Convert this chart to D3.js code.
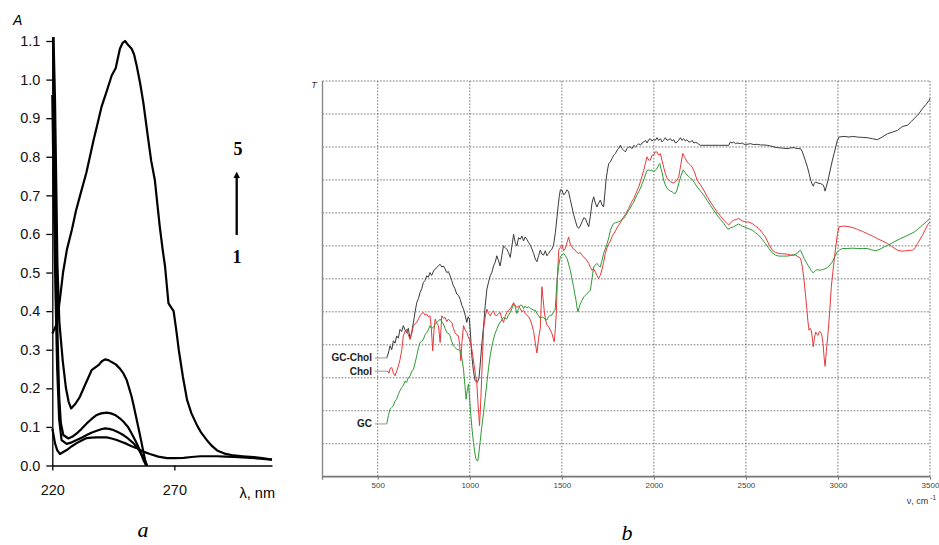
<!DOCTYPE html>
<html lang="en">
<head>
<meta charset="utf-8">
<title>UV and IR spectra</title>
<script src="https://cdn.jsdelivr.net/npm/d3@7"></script>
<style>
  body { margin: 0; background: #fff; }
  .tickA text { font-family: "Liberation Sans", Arial, sans-serif; font-size: 14.5px; fill: #111; }
  .tickA path, .tickA line { stroke: #000; stroke-width: 1.3; }
  .tickB text { font-family: "Liberation Sans", Arial, sans-serif; font-size: 8px; fill: #444; }
  .tickB line { stroke: #777; }
  .tickB path { stroke: none; }
  .grid line { stroke: #666; stroke-width: 0.9; stroke-dasharray: 1.6,1.6; }
</style>
</head>
<body>
<div id="chart"></div>
<script>
// ---------- panel a : UV spectra, curves 1..5 ----------
var aTicksY = [0, 0.1, 0.2, 0.3, 0.4, 0.5, 0.6, 0.7, 0.8, 0.9, 1.0, 1.1];
var aTicksX = [220, 270];

var uv1 = [[220,0.096],[221.1,0.058],[222,0.04],[223.1,0.03],[224.5,0.035],[225.9,0.04],[228,0.05],[230,0.058],[232,0.065],[234.1,0.071],[236,0.072],[238.2,0.073],[240,0.073],[242.3,0.073],[244.3,0.07],[246.4,0.066],[248.5,0.061],[250.5,0.056],[252.5,0.05],[254.6,0.045],[257.3,0.036],[260,0.03],[263.4,0.023],[267,0.019],[270,0.019],[273.8,0.02],[277,0.022],[280.7,0.024],[284,0.024],[287.5,0.024],[291,0.023],[294.4,0.022],[298,0.021],[301.2,0.02],[305,0.018],[310,0.015]];
var uv2 = [[220,0.96],[220.6,0.7],[221.3,0.45],[222,0.25],[222.8,0.12],[223.8,0.066],[225.9,0.056],[228,0.06],[230,0.066],[232,0.072],[234.1,0.079],[236,0.085],[238.2,0.09],[240,0.094],[241.6,0.096],[243.3,0.095],[245,0.092],[247,0.086],[249.1,0.079],[251,0.07],[253.2,0.058],[254.6,0.048],[255.9,0.036],[257,0.022],[258,0.01],[258.9,0]];
var uv3 = [[220.3,1.11],[220.8,0.85],[221.4,0.6],[222.1,0.35],[222.8,0.18],[223.5,0.11],[224.5,0.079],[226.6,0.07],[228.3,0.075],[230,0.083],[232,0.095],[234.1,0.109],[236,0.12],[238.2,0.131],[240,0.135],[242.3,0.137],[244,0.135],[245.7,0.131],[247.5,0.123],[249.1,0.114],[251,0.1],[252.5,0.083],[254,0.065],[255.2,0.049],[256.3,0.032],[257.3,0.015],[258.4,0]];
var uv4 = [[220.5,1.11],[221.1,0.95],[221.5,0.78],[222.1,0.52],[222.9,0.37],[224.3,0.27],[225.6,0.2],[226.7,0.165],[227.7,0.148],[229.5,0.16],[231.3,0.178],[233.5,0.21],[236.1,0.247],[238.9,0.26],[240.3,0.27],[241.6,0.275],[243,0.273],[244.3,0.268],[246,0.262],[247.7,0.251],[249.2,0.238],[250.5,0.221],[251.5,0.2],[252.5,0.178],[253.5,0.15],[254.6,0.118],[255.6,0.088],[256.6,0.058],[257.3,0.035],[258,0.015],[258.7,0]];
var uv5 = [[220,0.342],[221,0.355],[221.8,0.367],[223.1,0.43],[224.4,0.5],[226,0.56],[228,0.61],[229.7,0.66],[231.4,0.7],[234,0.76],[236.8,0.84],[238.5,0.885],[240.2,0.93],[242.3,0.97],[244.3,1.01],[246,1.03],[247,1.06],[247.7,1.08],[248.8,1.095],[249.8,1.1],[251,1.09],[252.5,1.08],[253.5,1.065],[254.6,1.035],[256,0.99],[257.3,0.94],[259.3,0.845],[260.5,0.79],[262,0.74],[263,0.68],[264,0.62],[265.2,0.56],[266.2,0.515],[267.6,0.42],[269.7,0.4],[270.8,0.35],[271.8,0.3],[273.5,0.23],[275.2,0.17],[277,0.135],[279.3,0.104],[281,0.085],[283.4,0.065],[285.5,0.05],[287.5,0.039],[291,0.03],[294.4,0.026],[298,0.024],[302.6,0.022],[306,0.019],[310,0.015]];

// ---------- panel b : IR spectra (transmittance, grid units) ----------
var bTicksX = [500, 1000, 1500, 2000, 2500, 3000, 3500];
var bGridY = [1, 2, 3, 4, 5, 6, 7, 8, 9, 10, 11, 12];
var irNames = ["GC-Chol", "Chol", "GC"];

var irGcChol = [[549,3.6],[558,3.75],[567,3.97],[576,3.85],[585,4.12],[594,4.05],[603,4.27],[612,4.2],[621,4.47],[630,4.4],[639,4.58],[648,4.45],[657,4.37],[666,4.5],[676,4.17],[685,4.4],[694,4.68],[703,5],[712,5.28],[721,5.4],[730,5.59],[739,5.7],[748,5.89],[757,5.95],[766,6.09],[775,6.05],[784,6.19],[793,6.1],[803,6.24],[812,6.3],[821,6.34],[830,6.4],[839,6.44],[848,6.36],[857,6.39],[866,6.3],[875,6.19],[884,6.22],[893,6.09],[902,5.95],[911,5.79],[920,5.7],[929,5.54],[939,5.5],[948,5.38],[957,5.2],[966,5.08],[975,4.9],[984,4.68],[991,4.85],[998,4.78],[1004,4.3],[1011,3.67],[1020,3.2],[1029,2.91],[1042,2.86],[1050,3],[1056,3.36],[1065,4],[1075,4.58],[1084,5.2],[1093,5.69],[1102,5.9],[1111,6.09],[1120,6.2],[1129,6.39],[1138,6.5],[1147,6.7],[1156,6.55],[1165,6.39],[1174,6.7],[1183,7],[1192,6.95],[1201,6.9],[1210,6.8],[1220,6.65],[1229,7],[1238,7.35],[1247,7.1],[1256,7],[1265,7.25],[1274,7.2],[1283,7.3],[1292,7.15],[1301,7.27],[1310,7.2],[1320,7.1],[1329,7.02],[1338,6.9],[1347,6.77],[1356,6.6],[1365,6.52],[1374,6.7],[1383,6.87],[1392,6.75],[1401,6.72],[1410,6.85],[1419,6.7],[1428,6.77],[1437,6.85],[1446,6.9],[1455,7.02],[1465,7.4],[1474,7.88],[1480,8.2],[1486,8.49],[1492,8.7],[1501,8.69],[1510,8.55],[1519,8.59],[1528,8.7],[1537,8.64],[1546,8.4],[1555,8.18],[1564,7.95],[1573,7.78],[1582,7.6],[1591,7.53],[1600,7.6],[1610,7.73],[1619,7.85],[1628,7.83],[1637,7.7],[1646,7.58],[1655,7.9],[1664,8.3],[1673,8.49],[1682,8.3],[1691,8.18],[1700,8.3],[1709,8.39],[1718,8.25],[1727,8.18],[1734,8.6],[1740,8.99],[1748,9.3],[1755,9.5],[1764,9.55],[1773,9.65],[1782,9.75],[1791,9.8],[1800,9.9],[1809,9.95],[1818,10.05],[1827,9.95],[1836,9.9],[1845,9.85],[1854,9.95],[1863,10],[1872,10],[1881,9.95],[1891,10.05],[1900,10],[1909,10.05],[1918,10.1],[1927,10.05],[1936,10.12],[1945,10.15],[1954,10.2],[1963,10.12],[1972,10.22],[1981,10.25],[1990,10.18],[1999,10.22],[2008,10.2],[2017,10.28],[2026,10.2],[2036,10.25],[2044,10.15],[2053,10.2],[2062,10.28],[2072,10.2],[2081,10.22],[2090,10.25],[2099,10.18],[2108,10.22],[2117,10.12],[2126,10.15],[2135,10.2],[2144,10.28],[2153,10.2],[2162,10.25],[2171,10.18],[2180,10.22],[2190,10.15],[2199,10.15],[2208,10.2],[2217,10.12],[2226,10.14],[2235,10.12],[2244,10.08],[2253,10.05],[2300,10.05],[2350,10.05],[2407,10.05],[2412,10.12],[2416,10.15],[2425,10.12],[2434,10.15],[2443,10.1],[2452,10.12],[2470,10.1],[2480,10.12],[2490,10.08],[2507,10.08],[2525,10.1],[2543,10.07],[2561,10.08],[2580,10.06],[2598,10.06],[2616,10.05],[2634,10.03],[2652,10],[2670,9.98],[2688,9.97],[2706,9.96],[2724,9.95],[2743,9.97],[2761,9.98],[2779,9.95],[2797,9.95],[2807,9.85],[2816,9.7],[2825,9.55],[2834,9.39],[2843,9.2],[2852,8.99],[2859,8.88],[2866,8.81],[2872,8.9],[2879,8.94],[2892,8.9],[2906,8.89],[2915,8.86],[2921,8.84],[2926,8.75],[2930,8.66],[2937,8.8],[2946,8.99],[2958,9.3],[2970,9.6],[2979,9.8],[2988,10],[2997,10.2],[3006,10.3],[3033,10.32],[3060,10.3],[3080,10.32],[3106,10.3],[3133,10.29],[3160,10.28],[3187,10.25],[3214,10.22],[3240,10.3],[3269,10.4],[3296,10.45],[3323,10.5],[3350,10.62],[3378,10.66],[3400,10.78],[3423,10.91],[3441,11.02],[3459,11.16],[3477,11.28],[3495,11.41],[3500,11.47]];
var irChol = [[549,3.2],[555,3.2],[561,3.14],[567,3.28],[576,3.31],[585,3.15],[594,3.06],[603,3.2],[612,3.36],[621,3.55],[630,3.82],[639,4.27],[648,4.4],[657,4.47],[666,4.3],[676,4.17],[685,4.35],[694,4.58],[703,4.65],[712,4.68],[721,4.78],[730,4.88],[739,4.95],[748,4.98],[757,4.9],[766,4.93],[775,4.85],[784,4.88],[791,4.5],[799,3.82],[805,4.4],[812,4.78],[821,4.65],[830,4.58],[835,4.3],[839,4.07],[844,4.5],[848,4.88],[857,4.8],[866,4.83],[875,4.7],[884,4.78],[893,4.72],[902,4.68],[911,4.5],[920,4.37],[929,4.3],[939,4.27],[945,4],[951,3.52],[958,4.1],[966,4.58],[975,4.45],[984,4.37],[991,4.25],[998,4.17],[1004,4.05],[1011,3.87],[1018,3.6],[1024,3.36],[1031,3.1],[1038,2.86],[1045,2.2],[1053,1.55],[1059,2.2],[1065,3.06],[1070,3.8],[1075,4.47],[1084,4.85],[1093,5.08],[1102,4.95],[1111,4.88],[1120,4.98],[1129,5.03],[1138,4.9],[1147,4.88],[1156,4.95],[1165,4.98],[1174,4.8],[1183,4.68],[1192,4.85],[1201,4.98],[1210,5.05],[1220,5.08],[1229,5.18],[1238,5.28],[1247,5.2],[1256,5.13],[1265,5.18],[1274,5.1],[1283,5],[1292,5.05],[1301,4.95],[1310,4.9],[1320,4.85],[1329,4.75],[1338,4.6],[1347,4.4],[1356,4.05],[1365,3.75],[1374,4.2],[1383,4.5],[1388,5.2],[1392,5.76],[1398,5.4],[1405,5],[1412,4.75],[1419,4.6],[1428,4.55],[1437,4.45],[1446,4.35],[1453,4.2],[1459,4.09],[1465,4.5],[1470,4.95],[1476,6],[1483,6.87],[1492,6.95],[1501,7.02],[1510,6.85],[1519,6.92],[1528,7.1],[1537,7.27],[1546,7.05],[1555,6.97],[1564,6.9],[1573,6.87],[1582,6.8],[1591,6.77],[1600,6.8],[1610,6.72],[1619,6.65],[1628,6.62],[1637,6.55],[1646,6.47],[1655,6.35],[1664,6.26],[1673,6.3],[1682,6.21],[1691,6.1],[1700,6.01],[1708,6.1],[1715,6.21],[1727,6.5],[1736,6.77],[1746,6.95],[1755,7.07],[1764,7.15],[1773,7.28],[1782,7.37],[1791,7.45],[1800,7.55],[1809,7.63],[1818,7.7],[1827,7.8],[1836,7.88],[1845,7.95],[1854,8.05],[1863,8.13],[1872,8.25],[1881,8.35],[1891,8.44],[1900,8.55],[1909,8.68],[1918,8.79],[1927,8.95],[1936,9.12],[1945,9.29],[1954,9.5],[1963,9.7],[1972,9.6],[1981,9.6],[1990,9.75],[1999,9.75],[2008,9.85],[2017,9.85],[2026,9.75],[2035,9.8],[2044,9.6],[2053,9.39],[2062,9.2],[2072,9.05],[2081,8.99],[2090,8.95],[2099,8.92],[2108,8.91],[2117,8.95],[2126,9],[2135,9.09],[2146,9.45],[2157,9.8],[2168,9.68],[2180,9.55],[2190,9.5],[2199,9.45],[2208,9.39],[2220,9.25],[2235,8.99],[2253,8.85],[2271,8.69],[2289,8.5],[2307,8.33],[2325,8.18],[2344,8.03],[2362,7.9],[2380,7.78],[2394,7.7],[2407,7.63],[2420,7.72],[2434,7.78],[2448,7.8],[2461,7.83],[2480,7.76],[2498,7.73],[2516,7.72],[2534,7.68],[2552,7.6],[2570,7.53],[2588,7.4],[2606,7.27],[2625,7.05],[2643,6.87],[2661,6.8],[2679,6.77],[2700,6.76],[2724,6.75],[2743,6.72],[2770,6.72],[2797,6.62],[2807,6.35],[2816,5.96],[2823,5.55],[2830,5.15],[2837,4.7],[2843,4.44],[2849,4.5],[2855,4.44],[2861,4.2],[2866,3.94],[2872,4.2],[2879,4.39],[2885,4.32],[2892,4.29],[2899,4.4],[2906,4.39],[2912,4.3],[2919,4.04],[2925,3.6],[2930,3.35],[2937,3.8],[2946,4.34],[2955,5],[2964,5.76],[2976,6.4],[2988,6.97],[2997,7.35],[3006,7.58],[3033,7.6],[3060,7.58],[3083,7.55],[3106,7.5],[3133,7.44],[3160,7.37],[3187,7.3],[3214,7.22],[3241,7.15],[3269,7.07],[3296,6.97],[3323,6.87],[3345,6.84],[3368,6.85],[3387,6.86],[3405,6.87],[3420,6.95],[3432,7.07],[3446,7.2],[3459,7.32],[3473,7.48],[3486,7.63],[3500,7.73]];
var irGc = [[549,1.6],[558,1.85],[567,2.05],[576,2.1],[585,2.15],[594,2.3],[603,2.35],[612,2.5],[621,2.61],[630,2.7],[639,2.76],[648,2.9],[657,2.86],[666,3],[676,3.06],[685,3.2],[694,3.26],[703,3.45],[712,3.67],[721,3.9],[730,4.07],[739,4.1],[748,4.17],[757,4.3],[766,4.37],[775,4.45],[784,4.58],[793,4.5],[803,4.53],[812,4.62],[821,4.68],[830,4.72],[839,4.78],[848,4.7],[857,4.63],[866,4.5],[875,4.37],[884,4.35],[893,4.27],[902,4.1],[911,3.97],[920,3.92],[929,3.87],[939,3.85],[948,3.82],[957,3.6],[966,3.26],[973,2.8],[980,2.35],[986,2.6],[993,2.81],[1000,2.3],[1006,1.85],[1013,1.4],[1020,1.04],[1027,0.75],[1033,0.54],[1040,0.48],[1044,0.48],[1050,0.75],[1056,1.04],[1065,1.5],[1075,1.95],[1084,2.4],[1093,2.86],[1102,3.3],[1111,3.67],[1120,3.95],[1129,4.17],[1138,4.35],[1147,4.47],[1156,4.6],[1165,4.68],[1174,4.75],[1183,4.83],[1192,4.8],[1201,4.78],[1210,4.9],[1220,4.98],[1229,5.1],[1238,5.23],[1247,5.15],[1256,4.95],[1265,5.1],[1274,5.2],[1283,5.2],[1292,5.1],[1301,5.18],[1310,5.12],[1320,5.15],[1329,5.1],[1338,5.08],[1347,5.05],[1356,5.05],[1365,4.95],[1374,4.88],[1383,4.8],[1392,4.85],[1401,4.82],[1410,4.78],[1419,4.75],[1428,4.85],[1437,4.9],[1446,4.9],[1455,5],[1464,5.05],[1474,5.96],[1483,6.4],[1492,6.67],[1501,6.72],[1510,6.77],[1519,6.7],[1528,6.62],[1537,6.45],[1546,6.26],[1555,6],[1564,5.76],[1570,5.55],[1577,5.35],[1582,5.15],[1588,5],[1595,5.15],[1601,5.25],[1610,5.35],[1619,5.45],[1628,5.5],[1637,5.56],[1646,5.6],[1655,5.66],[1664,6],[1673,6.36],[1682,6.42],[1691,6.47],[1700,6.4],[1709,6.36],[1718,6.55],[1727,6.77],[1736,6.9],[1746,7.07],[1755,7.25],[1764,7.47],[1773,7.6],[1782,7.68],[1791,7.7],[1800,7.72],[1809,7.73],[1818,7.76],[1827,7.8],[1836,7.83],[1845,7.9],[1854,8],[1863,8.08],[1872,8.15],[1881,8.25],[1891,8.33],[1900,8.45],[1909,8.55],[1918,8.64],[1927,8.75],[1936,8.88],[1945,9],[1954,9.15],[1963,9.29],[1972,9.3],[1981,9.29],[1990,9.3],[1999,9.24],[2008,9.3],[2017,9.34],[2026,9.45],[2032,9.5],[2038,9.35],[2044,9.24],[2053,9],[2062,8.85],[2072,8.74],[2081,8.7],[2090,8.66],[2099,8.64],[2108,8.6],[2117,8.59],[2126,8.7],[2135,8.89],[2147,9.12],[2159,9.3],[2170,9.22],[2180,9.15],[2190,9.1],[2199,9.05],[2208,9.02],[2220,8.92],[2235,8.79],[2253,8.66],[2271,8.54],[2289,8.38],[2307,8.23],[2325,8.08],[2344,7.93],[2362,7.8],[2380,7.68],[2392,7.58],[2402,7.5],[2418,7.55],[2434,7.58],[2448,7.63],[2461,7.66],[2480,7.6],[2498,7.56],[2516,7.52],[2534,7.48],[2552,7.4],[2570,7.32],[2588,7.2],[2606,7.07],[2625,6.92],[2643,6.79],[2661,6.72],[2679,6.69],[2700,6.69],[2724,6.69],[2743,6.71],[2761,6.73],[2779,6.77],[2790,6.85],[2797,6.87],[2806,6.75],[2816,6.62],[2830,6.48],[2843,6.36],[2855,6.25],[2866,6.18],[2877,6.25],[2888,6.28],[2902,6.26],[2915,6.28],[2928,6.3],[2942,6.34],[2956,6.42],[2970,6.52],[2984,6.68],[2997,6.82],[3010,6.88],[3024,6.92],[3050,6.92],[3080,6.93],[3106,6.92],[3133,6.92],[3160,6.92],[3183,6.88],[3205,6.85],[3228,6.9],[3251,6.97],[3278,7.04],[3305,7.12],[3332,7.2],[3359,7.27],[3386,7.34],[3414,7.42],[3437,7.52],[3459,7.63],[3480,7.73],[3500,7.83]];

var W = 939, H = 545;
var svg = d3.select("#chart").append("svg")
  .attr("width", W).attr("height", H);

var sans = "'Liberation Sans', Arial, sans-serif";
var serif = "'Liberation Serif', 'Times New Roman', serif";

//////////////// panel a ////////////////
var xA = d3.scaleLinear().domain([220, 310]).range([52.3, 272]);
var yA = d3.scaleLinear().domain([0, 1.1]).range([465.5, 41]);

svg.append("g")
  .attr("class", "tickA")
  .attr("transform", "translate(52.3,0)")
  .call(d3.axisLeft(yA).tickValues(aTicksY).tickFormat(d3.format(".1f")).tickSize(6).tickSizeOuter(0).tickPadding(6));

svg.append("g")
  .attr("class", "tickA")
  .attr("transform", "translate(0,465.5)")
  .call(d3.axisBottom(xA).tickValues(aTicksX).tickSize(5).tickSizeOuter(0).tickPadding(14));

var lineA = d3.line()
  .x(function(d) { return xA(d[0]); })
  .y(function(d) { return yA(d[1]); });

svg.append("g").selectAll("path")
  .data([uv1, uv2, uv3, uv4, uv5])
  .enter().append("path")
  .attr("d", lineA)
  .attr("fill", "none")
  .attr("stroke", "#000")
  .attr("stroke-width", 2.2)
  .attr("stroke-linejoin", "round");

svg.append("text").attr("x", 13).attr("y", 25)
  .style("font-family", sans).style("font-style", "italic").style("font-size", "14px")
  .text("A");

svg.append("text").attr("x", 275).attr("y", 497.5)
  .attr("text-anchor", "end")
  .style("font-family", sans).style("font-size", "14.5px")
  .text("λ, nm");

// arrow 1 -> 5
svg.append("defs").append("marker")
  .attr("id", "head").attr("viewBox", "0 0 10 10")
  .attr("refX", 5).attr("refY", 5)
  .attr("markerWidth", 3).attr("markerHeight", 4).attr("orient", "auto")
  .append("path").attr("d", "M0,0 L10,5 L0,10 z").attr("fill", "#000");

svg.append("line")
  .attr("x1", 236.7).attr("y1", 235).attr("x2", 236.7).attr("y2", 175)
  .attr("stroke", "#000").attr("stroke-width", 2.3)
  .attr("marker-end", "url(#head)");

svg.append("text").attr("x", 238).attr("y", 155).attr("text-anchor", "middle")
  .style("font-family", serif).style("font-weight", "bold").style("font-size", "18px")
  .text("5");
svg.append("text").attr("x", 237).attr("y", 263).attr("text-anchor", "middle")
  .style("font-family", serif).style("font-weight", "bold").style("font-size", "18px")
  .text("1");

svg.append("text").attr("x", 143).attr("y", 537).attr("text-anchor", "middle")
  .style("font-family", serif).style("font-style", "italic").style("font-size", "22px")
  .text("a");

//////////////// panel b ////////////////
var xB = d3.scaleLinear().domain([200, 3500]).range([322.5, 930]);
var yB = d3.scaleLinear().domain([0, 12]).range([476.7, 81]);

// dotted grid
svg.append("g").attr("class", "grid")
  .selectAll("line").data(bGridY).enter().append("line")
  .attr("x1", xB(200)).attr("x2", xB(3500))
  .attr("y1", function(d) { return yB(d); })
  .attr("y2", function(d) { return yB(d); });

svg.append("g").attr("class", "grid")
  .selectAll("line").data(bTicksX).enter().append("line")
  .attr("x1", function(d) { return xB(d); })
  .attr("x2", function(d) { return xB(d); })
  .attr("y1", yB(12)).attr("y2", yB(0));

// axes
svg.append("line")
  .attr("x1", xB(200)).attr("x2", xB(200))
  .attr("y1", yB(12)).attr("y2", yB(0) + 3)
  .attr("stroke", "#888").attr("stroke-width", 1.4);
svg.append("line")
  .attr("x1", xB(200)).attr("x2", xB(3500))
  .attr("y1", yB(0)).attr("y2", yB(0))
  .attr("stroke", "#777").attr("stroke-width", 1.8);

svg.append("g")
  .attr("class", "tickB")
  .attr("transform", "translate(0," + yB(0) + ")")
  .call(d3.axisBottom(xB).tickValues(bTicksX).tickFormat(d3.format("d")).tickSize(3).tickSizeOuter(0).tickPadding(3));

svg.append("text").attr("x", 314).attr("y", 88)
  .attr("text-anchor", "middle")
  .style("font-family", sans).style("font-style", "italic").style("font-size", "9px")
  .style("fill", "#333")
  .text("T");

var unit = svg.append("text").attr("x", 936).attr("y", 504)
  .attr("text-anchor", "end")
  .style("font-family", sans).style("font-size", "9px").style("fill", "#333");
unit.append("tspan").text("ν, cm");
unit.append("tspan").attr("dy", -4).attr("dx", 2).style("font-size", "6.5px").text("-1");

// spectra
var lineB = d3.line()
  .x(function(d) { return xB(d[0]); })
  .y(function(d) { return yB(d[1]); });

var irSeries = [irGcChol, irChol, irGc];
var irColors = ["#3a3a3a", "#e8383a", "#2e9a36"];

svg.append("g").selectAll("path")
  .data(irSeries)
  .enter().append("path")
  .attr("d", lineB)
  .attr("fill", "none")
  .attr("stroke", function(d, i) { return irColors[i]; })
  .attr("stroke-width", 1)
  .attr("stroke-linejoin", "round");

// labels with short leaders
var leg = svg.append("g").selectAll("g")
  .data(irSeries).enter().append("g");

leg.append("line")
  .attr("x1", 375).attr("x2", function(d) { return xB(d[0][0]); })
  .attr("y1", function(d) { return yB(d[0][1]); })
  .attr("y2", function(d) { return yB(d[0][1]); })
  .attr("stroke", "#999").attr("stroke-width", 1);

leg.append("text")
  .attr("x", 372)
  .attr("y", function(d) { return yB(d[0][1]); })
  .attr("dy", "0.35em")
  .attr("text-anchor", "end")
  .style("font-family", sans).style("font-weight", "bold").style("font-size", "10px")
  .style("fill", "#222")
  .text(function(d, i) { return irNames[i]; });

svg.append("text").attr("x", 627).attr("y", 540).attr("text-anchor", "middle")
  .style("font-family", serif).style("font-style", "italic").style("font-size", "22px")
  .text("b");
</script>
</body>
</html>
